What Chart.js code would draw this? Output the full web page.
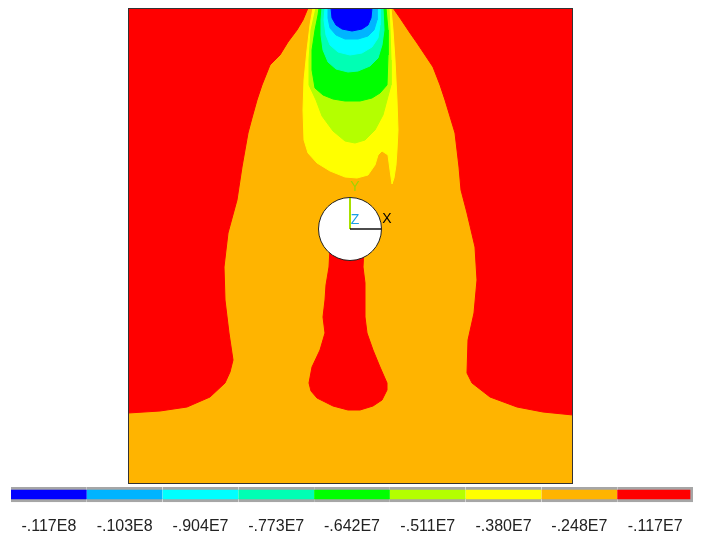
<!DOCTYPE html>
<html>
<head>
<meta charset="utf-8">
<script src="https://cdn.jsdelivr.net/npm/chart.js@4.4.1/dist/chart.umd.min.js"></script>
<style>
  html, body { margin: 0; padding: 0; background: #fff; }
  #wrap { position: relative; width: 705px; height: 538px; }
  #plot { position: absolute; left: 0; top: 0; }
  #bar { position: absolute; left: 0; top: 480px; }
</style>
</head>
<body>
<div id="wrap">
  <canvas id="plot" width="705" height="538"></canvas>
  <canvas id="bar" width="705" height="58"></canvas>
</div>
<script>
// contour levels (legend tick labels) and band colours
var levelLabels = ['-.117E8', '-.103E8', '-.904E7', '-.773E7', '-.642E7', '-.511E7', '-.380E7', '-.248E7', '-.117E7'];
var levelColors = ['#0000ff', '#00b4ff', '#00ffff', '#00ffb4', '#00ff00', '#b4ff00', '#ffff00', '#ffb400', '#ff0000'];

// model extents (x, y), hole at the origin
var xRange = [-222, 223];
var yRange = [-255, 221];
var holeRadius = 31.5;

// contour bands, [x, y]
var baseBand = [[-222, 221], [223, 221], [223, -255], [-222, -255]];

var redLeft = [[-222, 221], [-42, 221], [-47, 209], [-53, 199], [-62, 187], [-70, 174], [-80, 164], [-88, 144],
  [-93, 129], [-98, 111], [-102, 96], [-108, 62], [-113, 29], [-122, -4], [-126, -38], [-125, -71], [-121, -104],
  [-117, -131], [-120, -143], [-125, -154], [-140, -168], [-163, -178], [-190, -182], [-222, -184]];

var redRight = [[43, 221], [50, 211], [60, 196], [67, 186], [75, 174], [83, 162], [90, 144], [95, 129], [105, 96],
  [109, 62], [111, 39], [117, 16], [125, -18], [127, -51], [124, -84], [118, -111], [117, -144], [122, -154],
  [140, -168], [167, -178], [193, -183], [223, -186], [223, 221]];

var redTail = [[-20, -19], [-21, -38], [-24, -56], [-25, -71], [-27, -88], [-25, -104], [-30, -121], [-38, -138],
  [-41, -154], [-39, -162], [-33, -169], [-17, -177], [-2, -181], [10, -181], [23, -177], [32, -171], [37, -161],
  [37, -154], [30, -138], [23, -121], [17, -104], [15, -88], [15, -54], [13, -38], [14, -19]];

var yellowPlume = [[-37, 221], [41, 221], [43, 199], [45, 169], [47, 129], [48, 99], [47, 79], [46, 64], [44, 51],
  [42, 45], [40, 59], [38, 74], [32, 78], [28, 74], [25, 64], [18, 54], [7, 51], [-5, 52], [-20, 58], [-33, 66],
  [-42, 76], [-46, 89], [-47, 119], [-46, 149], [-43, 179], [-40, 204]];

var limePlume = [[-34, 221], [39, 221], [40, 199], [41, 169], [41, 144], [37, 129], [33, 114], [25, 99], [15, 89],
  [5, 86], [-5, 88], [-17, 98], [-28, 113], [-34, 129], [-41, 144], [-41, 169], [-39, 199]];

var greenPlume = [[-31, 221], [36, 221], [38, 199], [38, 174], [37, 144], [30, 136], [22, 131], [10, 128], [-5, 128],
  [-17, 130], [-27, 134], [-35, 141], [-38, 159], [-38, 179], [-35, 199], [-32, 214]];

var aquaPlume = [[-28, 221], [33, 221], [34, 199], [32, 184], [28, 171], [20, 163], [8, 158], [-2, 157], [-14, 160],
  [-22, 167], [-27, 179], [-29, 194], [-29, 209]];

var cyanPlume = [[-25, 221], [30, 221], [30, 204], [28, 191], [22, 182], [12, 176], [0, 174], [-12, 177], [-20, 184],
  [-24, 194], [-26, 209]];

var skyPlume = [[-22, 221], [27, 221], [27, 209], [24, 199], [18, 193], [8, 190], [-5, 190], [-14, 194], [-20, 201],
  [-22, 211]];

var bluePlume = [[-19, 221], [22, 221], [21, 211], [18, 204], [12, 200], [2, 198], [-8, 200], [-14, 204], [-18, 211]];

// painting order, bottom first: [band, level index]
var bands = [
  [baseBand, 7], [redLeft, 8], [redRight, 8], [redTail, 8],
  [yellowPlume, 6], [limePlume, 5], [greenPlume, 4], [aquaPlume, 3],
  [cyanPlume, 2], [skyPlume, 1], [bluePlume, 0]
];

// global axis triad
var triadX = [[0, 0], [31, 0]];
var triadY = [[0, 0], [0, 31]];
var triadText = [['X', 37, 10, '#000'], ['Y', 5, 42, '#9ed400'], ['Z', 5, 9, '#1aa0e8']];

function pts(list, close) {
  var out = list.map(function (p) { return {x: p[0], y: p[1]}; });
  if (close) out.push({x: list[0][0], y: list[0][1]});
  return out;
}

var datasets = [];
bands.forEach(function (b) {
  datasets.push({
    data: pts(b[0], true),
    backgroundColor: levelColors[b[1]],
    borderColor: levelColors[b[1]],
    borderWidth: 1,
    fill: 'shape',
    pointRadius: 0,
    tension: 0
  });
});

// frame
datasets.push({
  data: pts(baseBand, true),
  borderColor: '#333',
  borderWidth: 2,
  fill: false,
  pointRadius: 0
});
// hole
datasets.push({
  data: [{x: 0, y: 0}],
  showLine: false,
  pointRadius: holeRadius,
  pointBackgroundColor: '#ffffff',
  pointBorderColor: '#222',
  pointBorderWidth: 1
});
datasets.push({
  data: pts(triadY, false),
  borderColor: '#a8e000',
  borderWidth: 2,
  fill: false,
  pointRadius: 0
});
datasets.push({
  data: pts(triadX, false),
  borderColor: '#111',
  borderWidth: 1.5,
  fill: false,
  pointRadius: 0
});

datasets.forEach(function (d, i) { d.order = datasets.length - i; });

var triadLabels = {
  id: 'triadLabels',
  afterDatasetsDraw: function (chart) {
    var ctx = chart.ctx;
    var sx = chart.scales.x, sy = chart.scales.y;
    ctx.save();
    ctx.font = '14px "Liberation Sans", Arial, sans-serif';
    ctx.textAlign = 'center';
    ctx.textBaseline = 'middle';
    triadText.forEach(function (t) {
      ctx.fillStyle = t[3];
      ctx.fillText(t[0], sx.getPixelForValue(t[1]), sy.getPixelForValue(t[2]));
    });
    ctx.restore();
  }
};

new Chart(document.getElementById('plot').getContext('2d'), {
  type: 'line',
  data: {datasets: datasets},
  options: {
    responsive: false,
    animation: false,
    events: [],
    layout: {autoPadding: false, padding: {left: 128, right: 132, top: 8, bottom: 54}},
    scales: {
      x: {type: 'linear', min: xRange[0], max: xRange[1], display: false},
      y: {type: 'linear', min: yRange[0], max: yRange[1], display: false}
    },
    plugins: {legend: {display: false}, tooltip: {enabled: false}}
  },
  plugins: [triadLabels]
});

// colour legend
var ones = levelLabels.map(function () { return 1; });
new Chart(document.getElementById('bar').getContext('2d'), {
  type: 'bar',
  data: {
    labels: levelLabels,
    datasets: [{
      data: ones,
      backgroundColor: levelColors,
      borderColor: '#a6a6a6',
      borderWidth: levelLabels.map(function (l, i) {
        return {top: 3, bottom: 3, left: 0, right: i === levelLabels.length - 1 ? 3 : 0};
      }),
      borderSkipped: false,
      barPercentage: 1,
      categoryPercentage: 1
    }]
  },
  options: {
    responsive: false,
    animation: false,
    events: [],
    layout: {autoPadding: false, padding: {left: 11, right: 12, top: 7, bottom: 2}},
    scales: {
      x: {
        grid: {display: false, drawTicks: false},
        border: {display: false},
        ticks: {
          color: '#222',
          padding: 5,
          maxRotation: 0,
          autoSkip: false,
          font: {family: '"Liberation Sans", Arial, sans-serif', size: 16}
        }
      },
      y: {display: false, min: -0.65, max: 1}
    },
    plugins: {legend: {display: false}, tooltip: {enabled: false}}
  }
});
</script>
</body>
</html>
